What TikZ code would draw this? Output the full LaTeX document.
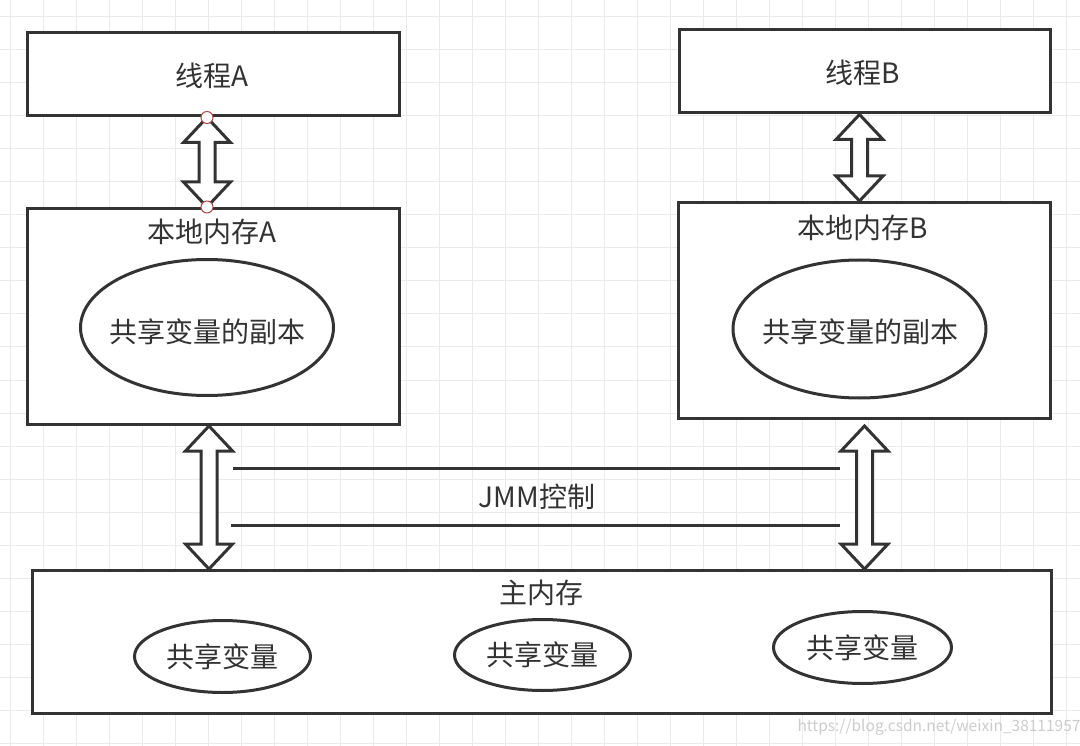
\documentclass[tikz,border=0pt]{standalone}
\usepackage{fontspec}
\setmainfont{Noto Sans CJK SC}
\usetikzlibrary{calc,shapes.geometric}
\definecolor{ink}{HTML}{333333}
\definecolor{gridc}{HTML}{EAEAEA}
\definecolor{handle}{HTML}{B04848}
\definecolor{wmark}{HTML}{CCCCCC}
\tikzset{
  box/.style={draw=ink, line width=3pt, fill=white, rectangle, inner sep=0pt, text=ink},
  oval/.style={draw=ink, line width=3pt, fill=white, ellipse, inner sep=0pt, text=ink},
  lbl/.style={inner sep=0pt, text=ink},
  blockarrow/.style={draw=ink, line width=3pt, fill=white, line join=miter},
  ctrlline/.style={draw=ink, line width=3pt},
  handlept/.style={draw=handle, line width=1pt, fill=white, circle, minimum size=12pt, inner sep=0pt},
}
\newcommand\dblarrow[2]{%
  \path[blockarrow] let \p1=(#1), \p2=(#2) in
    (\x1,\y1) -- (\x1+23.5pt,\y1-25pt) -- (\x1+8pt,\y1-25pt) -- (\x1+8pt,\y2+25pt)
    -- (\x1+23.5pt,\y2+25pt) -- (\x1,\y2) -- (\x1-23.5pt,\y2+25pt) -- (\x1-8pt,\y2+25pt)
    -- (\x1-8pt,\y1-25pt) -- (\x1-23.5pt,\y1-25pt) -- cycle;}
\begin{document}
\begin{tikzpicture}[x=1pt,y=-1pt,font=\fontsize{28}{33}\selectfont]
\useasboundingbox (0,0) rectangle (1080,746);
\fill[white] (0,0) rectangle (1080,746);
% grid
\foreach \i in {0,...,32} \draw[gridc, line width=1pt] (10+33*\i,0) -- (10+33*\i,746);
\foreach \j in {0,...,22} \draw[gridc, line width=1pt] (0,17+33*\j) -- (1080,17+33*\j);

% boxes
\node[box, minimum width=372pt, minimum height=83pt] (tA) at (213.5,74.5) {};
\node[box, minimum width=371pt, minimum height=83pt] (tB) at (865,71.5) {};
\node[box, minimum width=372pt, minimum height=216pt] (lmA) at (213.5,316.5) {};
\node[box, minimum width=372pt, minimum height=216pt] (lmB) at (864.5,310.5) {};
\node[box, minimum width=1019pt, minimum height=143pt] (mm) at (542,642) {};

% labels
\node[lbl] (ltA) at (212,76) {线程A};
\node[lbl] (ltB) at (863,73) {线程B};
\node[lbl] (llA) at (212,232) {本地内存A};
\node[lbl] (llB) at (863,228) {本地内存B};
\node[lbl] (lmm) at (541,593) {主内存};

% ellipses
\node[oval, minimum width=253pt, minimum height=136pt] (eA) at (207,327.5) {};
\node[oval, minimum width=253pt, minimum height=138pt] (eB) at (859.5,329) {};
\node[lbl] (teA) at (207,332) {共享变量的副本};
\node[lbl] (teB) at (860,332) {共享变量的副本};
\node[oval, minimum width=176pt, minimum height=72pt] (e1) at (222.5,656.5) {共享变量};
\node[oval, minimum width=176pt, minimum height=71pt] (e2) at (542.5,655) {共享变量};
\node[oval, minimum width=178pt, minimum height=72pt] (e3) at (862.5,647.5) {共享变量};

% block arrows
\coordinate (a1t) at (eA |- tA.south);
\coordinate (a1b) at (eA |- lmA.north);
\coordinate (a2t) at (eB |- tB.south);
\coordinate (a2b) at (eB |- lmB.north);
\coordinate (a3t) at ([xshift=2pt]eA |- lmA.south);
\coordinate (a3b) at ([xshift=2pt]eA |- mm.north);
\coordinate (a4t) at ([xshift=5pt]eB |- lmA.south);
\coordinate (a4b) at ([xshift=5pt]eB |- mm.north);
\dblarrow{a1t}{a1b}
\dblarrow{a2t}{a2b}
\dblarrow{a3t}{a3b}
\dblarrow{a4t}{a4b}

% JMM control lines
\coordinate (j1l) at (233,468);
\coordinate (j1r) at (840,468);
\coordinate (j2l) at (231,525);
\coordinate (j2r) at (840,525);
\draw[ctrlline] (j1l) -- (j1r);
\draw[ctrlline] (j2l) -- (j2r);
\node[lbl] (jmm) at (537,497) {JMM控制};

% selection handles
\node[handlept] (h1) at (a1t) {};
\node[handlept] (h2) at (a1b) {};

% watermark
\node[inner sep=0pt, text=wmark, font=\fontsize{15.5}{18}\selectfont] (wm) at (939,727) {https://blog.csdn.net/weixin\_38111957};
\end{tikzpicture}
\end{document}
